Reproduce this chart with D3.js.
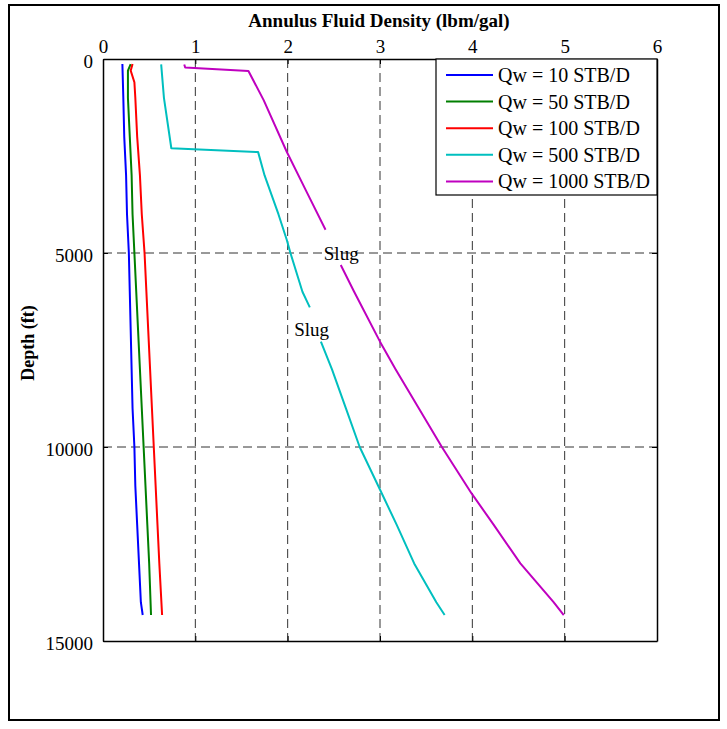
<!DOCTYPE html>
<html>
<head>
<meta charset="utf-8">
<script src="https://cdn.jsdelivr.net/npm/d3@7"></script>
<style>
html,body{margin:0;padding:0;background:#fff;}
svg{display:block;}
svg text{font-family:"Liberation Serif","Times New Roman",serif !important;fill:#000;}
</style>
</head>
<body>
<svg id="chart" width="727" height="729"></svg>
<script>
// ---- data ----
const seriesNames = ["Qw = 10 STB/D","Qw = 50 STB/D","Qw = 100 STB/D","Qw = 500 STB/D","Qw = 1000 STB/D"];
const seriesColors = ["#0000ff","#007f00","#ff0000","#00bfbf","#bf00bf"];
const xTicks = [0,1,2,3,4,5,6];
const yTicks = [0,5000,10000,15000];

const depth10 = [130,1000,2000,3000,4000,5000,6000,7000,8000,9000,10000,11000,12000,13000,14000,14330];
const dens10  = [0.21,0.22,0.23,0.25,0.26,0.28,0.29,0.30,0.31,0.32,0.34,0.35,0.37,0.39,0.41,0.43];

const depth50 = [130,300,1000,2000,3000,4000,5000,6000,7000,8000,9000,10000,11000,12000,13000,14330];
const dens50  = [0.30,0.27,0.27,0.29,0.31,0.32,0.34,0.36,0.38,0.40,0.42,0.44,0.46,0.48,0.50,0.52];

const depth100 = [130,300,600,1000,2000,3000,4000,5000,6000,7000,8000,9000,10000,11000,12000,13000,14330];
const dens100  = [0.32,0.30,0.34,0.35,0.37,0.40,0.42,0.45,0.47,0.49,0.51,0.53,0.55,0.57,0.59,0.61,0.64];

// null = gap in the curve (where the "Slug" label sits)
const depth500 = [140,1000,2300,2400,3000,4000,4660,5000,6000,6400,6800,7285,8000,9000,10000,11000,12000,13000,14000,14330];
const dens500  = [0.63,0.66,0.74,1.68,1.75,1.90,1.99,2.03,2.16,2.24,null,2.36,2.48,2.63,2.78,2.98,3.18,3.37,3.61,3.70];

const depth1000 = [140,220,310,1060,2390,3400,4400,4800,5310,6000,7285,8000,9000,10000,11190,12000,13000,14000,14330];
const dens1000  = [0.88,0.89,1.575,1.74,1.99,2.20,2.41,null,2.575,2.72,3.0,3.17,3.42,3.67,3.99,4.23,4.52,4.88,4.99];

const depths = [depth10,depth50,depth100,depth500,depth1000];
const densities = [dens10,dens50,dens100,dens500,dens1000];

const annotations = [
  {text:"Slug", x:2.58, y:5000},
  {text:"Slug", x:2.26, y:6980}
];

// ---- drawing ----
const svg = d3.select("#chart");
const L = 103, R = 657, T = 59, B = 641;

const x = d3.scaleLinear().domain([0,6]).range([L,R]);
const y = d3.scaleLinear().domain([0,15000]).range([T,B]);

// outer frame
svg.append("rect").attr("x",9).attr("y",5).attr("width",710).attr("height",715)
  .attr("fill","none").attr("stroke","#000").attr("stroke-width",2);

// grid
const grid = svg.append("g");
grid.selectAll("line.vx").data(xTicks.slice(1,-1)).join("line")
  .attr("x1",d=>x(d)).attr("x2",d=>x(d)).attr("y1",T).attr("y2",B)
  .attr("stroke","#333").attr("stroke-width",1).attr("stroke-dasharray","9,5");
grid.selectAll("line.hy").data(yTicks.slice(1,-1)).join("line")
  .attr("x1",L).attr("x2",R).attr("y1",d=>y(d)).attr("y2",d=>y(d))
  .attr("stroke","#333").attr("stroke-width",1).attr("stroke-dasharray","9,5");

// axes
const axTop = d3.axisTop(x).tickValues(xTicks).tickFormat(d3.format("d")).tickSizeInner(-5).tickSizeOuter(0).tickPadding(6);
const axBottom = d3.axisBottom(x).tickValues(xTicks).tickFormat("").tickSizeInner(-5).tickSizeOuter(0);
const axLeft = d3.axisLeft(y).tickValues(yTicks).tickFormat(d3.format("d")).tickSizeInner(-5).tickSizeOuter(0).tickPadding(10);
const axRight = d3.axisRight(y).tickValues(yTicks).tickFormat("").tickSizeInner(-5).tickSizeOuter(0);

function styleAxis(g){
  g.attr("font-family",null).attr("font-size",null);
  g.select(".domain").attr("stroke","#000").attr("stroke-width",1.5);
  g.selectAll(".tick line").attr("stroke","#000");
  g.selectAll(".tick text").style("font-size","19px").attr("fill","#000");
}
svg.append("g").attr("transform",`translate(0,${T})`).call(axTop).call(styleAxis);
svg.append("g").attr("transform",`translate(0,${B})`).call(axBottom).call(styleAxis);
svg.append("g").attr("transform",`translate(${L},0)`).call(axLeft).call(styleAxis)
  .selectAll(".tick text").attr("dy","0.45em");
svg.append("g").attr("transform",`translate(${R},0)`).call(axRight).call(styleAxis);

// series lines
const line = d3.line()
  .defined(d=>d[1]!==null)
  .x(d=>x(d[1])).y(d=>y(d[0]));

seriesNames.forEach((name,i)=>{
  const pts = depths[i].map((dp,j)=>[dp,densities[i][j]]);
  svg.append("path").datum(pts).attr("d",line)
    .attr("fill","none").attr("stroke",seriesColors[i]).attr("stroke-width",2)
    .attr("stroke-linejoin","round");
});

// annotations
svg.selectAll("text.ann").data(annotations).join("text")
  .attr("x",d=>x(d.x)).attr("y",d=>y(d.y)).attr("dy","0.35em")
  .attr("text-anchor","middle").style("font-size","19px").text(d=>d.text);

// legend
const lg = svg.append("g");
lg.append("rect").attr("x",436).attr("y",T).attr("width",R-436).attr("height",136)
  .attr("fill","#fff").attr("stroke","#000").attr("stroke-width",1.2);
seriesNames.forEach((name,i)=>{
  const yy = 75 + i*26.6;
  lg.append("line").attr("x1",446).attr("x2",493).attr("y1",yy).attr("y2",yy)
    .attr("stroke",seriesColors[i]).attr("stroke-width",2);
  lg.append("text").attr("x",498).attr("y",yy).attr("dy","0.35em")
    .style("font-size","20px").text(name);
});

// titles
svg.append("text").attr("x",379).attr("y",27).attr("text-anchor","middle")
  .attr("font-weight","bold").style("font-size","19px").text("Annulus Fluid Density (lbm/gal)");
svg.append("text").attr("transform","translate(34,343) rotate(-90)").attr("text-anchor","middle")
  .attr("font-weight","bold").style("font-size","18px").text("Depth (ft)");
</script>
</body>
</html>
